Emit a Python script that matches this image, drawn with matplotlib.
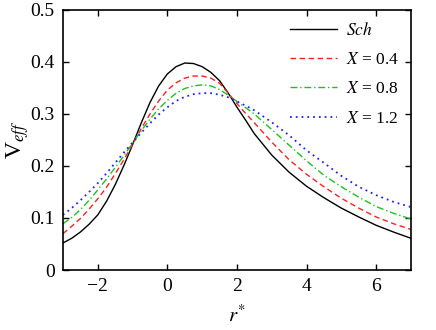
import matplotlib
matplotlib.use("Agg")
import matplotlib.pyplot as plt

plt.rcParams['font.family'] = ['Liberation Serif', 'DejaVu Serif']
plt.rcParams['mathtext.fontset'] = 'stix'

r = [-3, -2.75, -2.5, -2.25, -2, -1.75, -1.5, -1.25, -1, -0.75, -0.5, -0.25, 0, 0.25, 0.5, 0.75,
     1, 1.25, 1.5, 1.75, 2, 2.25, 2.5, 3, 3.5, 4, 4.5, 5, 5.5, 6, 6.5, 7]

v_sch = [0.052, 0.061, 0.073, 0.088, 0.106, 0.132, 0.164, 0.201, 0.241, 0.283, 0.322, 0.354, 0.377,
         0.391, 0.398, 0.397, 0.391, 0.380, 0.364, 0.340, 0.313, 0.288, 0.262, 0.221,
         0.188, 0.161, 0.139, 0.119, 0.102, 0.086, 0.073, 0.061]
v_x04 = [0.070, 0.084, 0.099, 0.117, 0.137, 0.159, 0.185, 0.212, 0.242, 0.272, 0.300, 0.325, 0.346,
         0.360, 0.369, 0.373, 0.373, 0.369, 0.359, 0.340, 0.320, 0.301, 0.283, 0.246,
         0.212, 0.184, 0.160, 0.138, 0.119, 0.102, 0.089, 0.078]
v_x08 = [0.089, 0.101, 0.116, 0.134, 0.154, 0.175, 0.197, 0.220, 0.244, 0.268, 0.290, 0.310, 0.326,
         0.340, 0.349, 0.354, 0.356, 0.354, 0.347, 0.336, 0.324, 0.312, 0.300, 0.270,
         0.240, 0.210, 0.182, 0.160, 0.140, 0.122, 0.109, 0.098]
v_x12 = [0.106, 0.119, 0.134, 0.150, 0.167, 0.186, 0.206, 0.226, 0.245, 0.264, 0.282, 0.299, 0.313,
         0.325, 0.333, 0.338, 0.340, 0.340, 0.337, 0.332, 0.324, 0.316, 0.307, 0.284,
         0.259, 0.230, 0.206, 0.181, 0.160, 0.144, 0.131, 0.121]

labels = [r'$Sch$', r'$X$ = 0.4', r'$X$ = 0.8', r'$X$ = 1.2']
xticks = [-2, 0, 2, 4, 6]
xtick_labels = ['\u22122', '0', '2', '4', '6']
yticks = [0, 0.1, 0.2, 0.3, 0.4, 0.5]
ytick_labels = ['0', '0.1', '0.2', '0.3', '0.4', '0.5']

fig = plt.figure(figsize=(4.36, 3.30), dpi=100)
ax = fig.add_axes([0.1445, 0.1818, 0.798, 0.788])

ax.plot(r, v_sch, color='black', lw=1.0, ls='-', label=labels[0])
ax.plot(r, v_x04, color='#ff2020', lw=1.0, ls=(0, (4, 2.5)), label=labels[1])
ax.plot(r, v_x08, color='#20c020', lw=1.0, ls=(0, (5, 2, 1, 2)), label=labels[2])
ax.plot(r, v_x12, color='#2020ff', lw=1.3, ls=(0, (1, 2.2)), label=labels[3])

ax.set_xlim(-3, 7)
ax.set_ylim(0, 0.5)
ax.set_xticks(xticks)
ax.set_xticklabels(xtick_labels)
ax.set_yticks(yticks)
ax.set_yticklabels(ytick_labels)
ax.tick_params(direction='in', top=True, right=True, length=4, width=1.0,
               labelsize=14, pad=6)
for s in ax.spines.values():
    s.set_linewidth(1.2)

ax.set_xlabel(r'$r^{*}$', fontsize=15)
ax.xaxis.set_label_coords(0.5, -0.135)
ax.set_ylabel(r'V$_{eff}$', fontsize=17)
ax.yaxis.set_label_coords(-0.092, 0.5)

leg = ax.legend(loc='upper right', frameon=False, fontsize=12.5, handlelength=2.7,
                labelspacing=0.75, handletextpad=0.5, borderaxespad=0.3)

fig.savefig('out.png', dpi=100)
